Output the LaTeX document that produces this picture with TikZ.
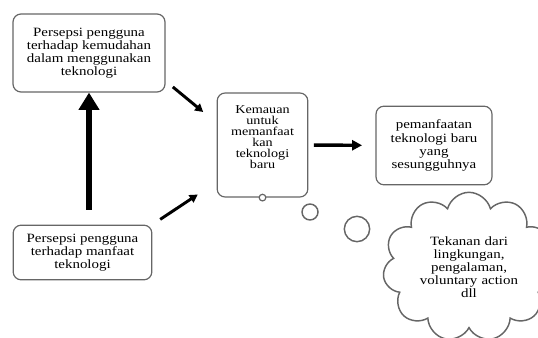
\documentclass[tikz,border=0pt]{standalone}
\usepackage{fontspec}
\setmainfont[FakeStretch=1.18]{Liberation Serif}
\usetikzlibrary{arrows.meta}
\usetikzlibrary{shapes.symbols}
\usetikzlibrary{calc}
\tikzset{
every node/.style={rectangle, rounded corners=6pt, draw=black!60, line width=0.9pt, align=center, inner sep=2pt, font=\fontsize{9.5}{9.8}\selectfont},
bubble/.style={circle, fill=white, inner sep=0pt},
arr/.style={-{Triangle[length=6pt,width=6.5pt]}, line width=2.2pt}
}

\begin{document}
\begin{tikzpicture}[x=0.75pt,y=-0.75pt]
\useasboundingbox (0,0) rectangle (538,338);
\node [minimum width=114pt, minimum height=58.5pt] (kemudahan) at (89,53) {Persepsi pengguna\\terhadap kemudahan\\dalam menggunakan\\teknologi};
\node [minimum width=104pt, minimum height=41pt] (manfaat) at (82.5,252.5) {Persepsi pengguna\\terhadap manfaat\\teknologi};
\node [minimum width=68pt, minimum height=78pt, font=\fontsize{9}{8.3}\selectfont] (kemauan) at (262.5,145) {Kemauan\\untuk\\memanfaat\\kan\\teknologi\\baru\\[4pt]\mbox{}};
\node [minimum width=87pt, minimum height=59pt] (pemanfaatan) at (434,145.5) {pemanfaatan\\teknologi baru\\yang\\sesungguhnya};
\node [bubble, draw=black!60, minimum size=5pt] (b0) at (kemauan.south) {};
\node [bubble, draw=black!60, line width=1.1pt, minimum size=12pt] (b1) at (310,212) {};
\node [bubble, draw=black!60, line width=1.1pt, minimum size=19pt] (b2) at (357,229) {};
\node [cloud, cloud puffs=11, cloud ignores aspect, sharp corners, line width=1.1pt, minimum width=118pt, minimum height=112pt, text width=80pt] (tekanan) at (469,267) {Tekanan dari\\lingkungan,\\pengalaman,\\voluntary action\\dll};

\draw [-{Triangle[length=13pt,width=15pt]}, line width=4.5pt, shorten <=11pt] (kemudahan.south |- manfaat.north) -- (kemudahan.south);
\draw [arr, shorten <=7pt, shorten >=13pt] ($(kemudahan.east)+(0,28)$) -- ($(kemauan.west)+(0,-22)$);
\draw [arr, shorten <=7pt, shorten >=17pt] (manfaat.north east) -- ($(kemauan.west)+(0,37)$);
\draw [-{Triangle[length=7.5pt,width=7.5pt]}, line width=2.6pt, shorten <=4pt, shorten >=10pt] (kemauan) -- (pemanfaatan);
\end{tikzpicture}
\end{document}
